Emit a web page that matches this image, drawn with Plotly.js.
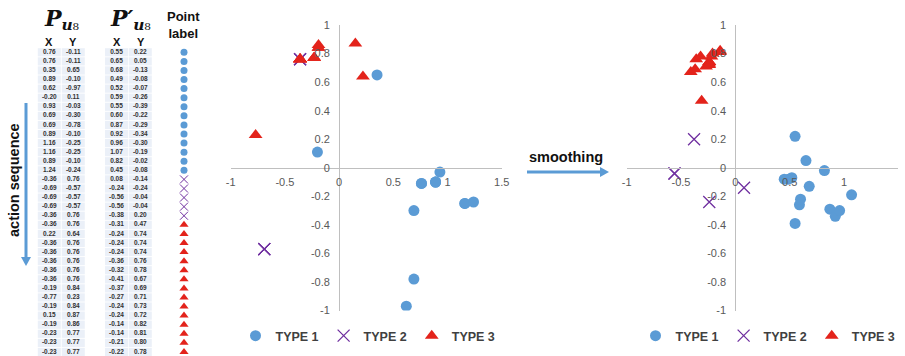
<!DOCTYPE html>
<html><head><meta charset="utf-8">
<script src="https://cdn.plot.ly/plotly-3.0.1.min.js"></script>
<style>html,body{margin:0;padding:0;background:#fff}#chart{width:905px;height:356px}</style>
</head><body><div id="chart"></div>
<script>
// ---- data ----
const puX = [0.76,0.76,0.35,0.89,0.62,-0.20,0.93,0.69,0.69,0.89,1.16,1.16,0.89,1.24,-0.36,-0.69,-0.69,-0.69,-0.36,-0.36,0.22,-0.36,-0.36,-0.36,-0.36,-0.36,-0.19,-0.77,-0.19,0.15,-0.19,-0.23,-0.23,-0.23];
const puY = [-0.11,-0.11,0.65,-0.10,-0.97,0.11,-0.03,-0.30,-0.78,-0.10,-0.25,-0.25,-0.10,-0.24,0.76,-0.57,-0.57,-0.57,0.76,0.76,0.64,0.76,0.76,0.76,0.76,0.76,0.84,0.23,0.84,0.87,0.86,0.77,0.77,0.77];
const ppX = [0.55,0.65,0.68,0.49,0.52,0.59,0.55,0.60,0.87,0.92,0.96,1.07,0.82,0.45,0.08,-0.24,-0.56,-0.56,-0.38,-0.31,-0.24,-0.24,-0.24,-0.36,-0.32,-0.41,-0.37,-0.27,-0.24,-0.24,-0.14,-0.14,-0.21,-0.22];
const ppY = [0.22,0.05,-0.13,-0.08,-0.07,-0.26,-0.39,-0.22,-0.29,-0.34,-0.30,-0.19,-0.02,-0.08,-0.14,-0.24,-0.04,-0.04,0.20,0.47,0.74,0.74,0.74,0.76,0.78,0.67,0.69,0.71,0.73,0.72,0.82,0.81,0.80,0.78];
const pointLabel = [1,1,1,1,1,1,1,1,1,1,1,1,1,1,2,2,2,2,2,3,3,3,3,3,3,3,3,3,3,3,3,3,3,3];
const typeNames = ['TYPE 1','TYPE 2','TYPE 3'];
const tableHeaders = ['<b><i>P</i></b><sub><b><i>u</i></b>₈</sub>', '<b><i>P′</i></b><sub><b><i>u</i></b>₈</sub>'];
const xTickVals = [-1,-0.5,0,0.5,1,1.5];
const xTickText = ['-1','-0.5','0','0.5','1','1.5'];
const yTickVals = [-1,-0.8,-0.6,-0.4,-0.2,0,0.2,0.4,0.6,0.8,1];
const yTickText = ['-1','-0.8','-0.6','-0.4','-0.2','0','0.2','0.4','0.6','0.8','1'];

// ---- styles ----
const W = 905, H = 356;
const markerStyles = {
  1: {symbol:'circle', color:'#5B9BD5', size:11},
  2: {symbol:'x-thin', color:'#7030A0', size:12, line:{color:'#7030A0', width:1.3}},
  3: {symbol:'triangle-up', color:'#E3231B', size:12}
};
const tableMarker = {
  1: {symbol:'circle', color:'#5B9BD5', size:7},
  2: {symbol:'x-thin', color:'#7030A0', size:8, line:{color:'#7030A0', width:1}},
  3: {symbol:'triangle-up', color:'#E3231B', size:8}
};
const ROW0 = 52.3, ROWH = 9.08;               // table row layout (px)
const colCenters = [49.3, 73.3, 116.5, 140.3];  // table column centres (px)
const headerLeft = [45, 111];                   // left edge of the P headers (px)
const labelCol = 184;
const px = v => v / W, py = v => 1 - v / H;
const rowOf = pixY => (pixY - ROW0) / ROWH;

const traces = [];
const idxOf = t => pointLabel.map((l,i)=>l===t?i:-1).filter(i=>i>=0);

[1,2,3].forEach(t => {
  const ix = idxOf(t);
  traces.push({type:'scatter', mode:'markers', name:typeNames[t-1], legend:'legend',
    x: ix.map(i=>puX[i]), y: ix.map(i=>puY[i]), xaxis:'x', yaxis:'y',
    marker: markerStyles[t], hoverinfo:'x+y'});
});
[1,2,3].forEach(t => {
  const ix = idxOf(t);
  traces.push({type:'scatter', mode:'markers', name:typeNames[t-1], legend:'legend2',
    x: ix.map(i=>ppX[i]), y: ix.map(i=>ppY[i]), xaxis:'x2', yaxis:'y2',
    marker: markerStyles[t], hoverinfo:'x+y'});
});

// ---- table drawn on a hidden pixel/row axis ----
const rows = pointLabel.map((_,i)=>i);
const cols = [puX, puY, ppX, ppY];
cols.forEach((arr, c) => {
  traces.push({type:'scatter', mode:'text', xaxis:'x3', yaxis:'y3', showlegend:false, hoverinfo:'skip',
    x: rows.map(()=>colCenters[c]), y: rows, text: arr.map(v=>v.toFixed(2)),
    textposition:'middle center', cliponaxis:false,
    textfont:{family:'Liberation Sans', size:6.5, color:'#333', weight:'bold'}});
});
[1,2,3].forEach(t => {
  const ix = idxOf(t);
  traces.push({type:'scatter', mode:'markers', xaxis:'x3', yaxis:'y3', showlegend:false, hoverinfo:'skip',
    x: ix.map(()=>labelCol), y: ix, marker: tableMarker[t], cliponaxis:false});
});
traces.push({type:'scatter', mode:'text', xaxis:'x3', yaxis:'y3', showlegend:false, hoverinfo:'skip',
  x: headerLeft, y: headerLeft.map(()=>rowOf(20)), text: tableHeaders, textposition:'middle right',
  cliponaxis:false, textfont:{family:'DejaVu Serif', size:22, color:'#111'}});

const shapes = [];
rows.forEach(i => colCenters.forEach(c => {
  shapes.push({type:'rect', xref:'x3', yref:'y3', x0:c-11.5, x1:c+11.5, y0:i-0.45, y1:i+0.45,
    fillcolor:'#EBF0F8', line:{width:0}, layer:'below'});
}));

// arrows (shaft + head) in paper space
const arrowColor = '#5B9BD5';
function arrow(x0, y0, x1, y1) {
  const dx = x1 - x0, dy = y1 - y0, L = Math.hypot(dx, dy), ux = dx / L, uy = dy / L;
  const hl = 9, hw = 5;
  const bx = x1 - ux * hl, by = y1 - uy * hl;
  shapes.push({type:'line', xref:'paper', yref:'paper', x0:px(x0), y0:py(y0), x1:px(bx), y1:py(by),
    line:{color:arrowColor, width:3}});
  const p1 = [bx - uy * hw, by + ux * hw], p2 = [bx + uy * hw, by - ux * hw];
  shapes.push({type:'path', xref:'paper', yref:'paper', fillcolor:arrowColor, line:{width:0},
    path:`M ${px(x1)} ${py(y1)} L ${px(p1[0])} ${py(p1[1])} L ${px(p2[0])} ${py(p2[1])} Z`});
}
arrow(26, 103, 26, 266);
arrow(527, 172, 609, 172);

const axCommon = {showgrid:false, zeroline:false, showline:true, linecolor:'#BFBFBF', linewidth:1,
  ticks:'outside', tickcolor:'rgba(0,0,0,0)', tickfont:{family:'Liberation Sans', size:11, color:'#595959'},
  anchor:'free', fixedrange:true};
const yDomain = [py(310.5), py(25)];
const zeroY = py(167.7);

const hdr = (text, x, y, size, extra) => Object.assign({xref:'paper', yref:'paper', x:px(x), y:py(y),
  text, showarrow:false, xanchor:'center', yanchor:'middle',
  font:{family:'Liberation Sans', size, color:'#111'}}, extra||{});

const annotations = [
  hdr('<b>Point<br>label</b>', 183, 25, 13),
  hdr('<b>X</b>', 49, 42, 11), hdr('<b>Y</b>', 73, 42, 11),
  hdr('<b>X</b>', 116.5, 42, 11), hdr('<b>Y</b>', 140.5, 42, 11),
  hdr('<b>action sequence</b>', 14, 180, 14.5, {textangle:-90}),
  hdr('<b>smoothing</b>', 566, 157, 14.5)
];

const legendCommon = {orientation:'h', xanchor:'center', yanchor:'middle', y:py(336),
  bgcolor:'rgba(0,0,0,0)', font:{family:'Liberation Sans', size:12.5, color:'#404040', weight:'bold'},
  itemclick:false, itemdoubleclick:false};

const layout = {
  width:W, height:H, margin:{l:0,r:0,t:0,b:0}, paper_bgcolor:'#fff', plot_bgcolor:'rgba(0,0,0,0)',
  showlegend:true,
  xaxis: Object.assign({}, axCommon, {domain:[px(230.7), px(501.7)], range:[-1,1.5], position:zeroY,
    tickvals:xTickVals, ticktext:xTickText, ticklen:4}),
  yaxis: Object.assign({}, axCommon, {domain:yDomain, range:[-1,1], position:px(339.1),
    tickvals:yTickVals, ticktext:yTickText, ticklen:7}),
  xaxis2: Object.assign({}, axCommon, {domain:[px(626.7), px(898.3)], range:[-1,1.5], position:zeroY,
    tickvals:xTickVals, ticktext:xTickText, ticklen:4}),
  yaxis2: Object.assign({}, axCommon, {domain:yDomain, range:[-1,1], position:px(735.3),
    tickvals:yTickVals, ticktext:yTickText, ticklen:7}),
  xaxis3: {domain:[0,1], range:[0,W], visible:false, fixedrange:true, anchor:'y3'},
  yaxis3: {domain:[0,1], range:[(H-ROW0)/ROWH, -ROW0/ROWH], visible:false, fixedrange:true, anchor:'x3'},
  legend: Object.assign({}, legendCommon, {x:px(368)}),
  legend2: Object.assign({}, legendCommon, {x:px(768)}),
  shapes, annotations
};

Plotly.newPlot('chart', traces, layout, {staticPlot:true, displayModeBar:false});
</script></body></html>
